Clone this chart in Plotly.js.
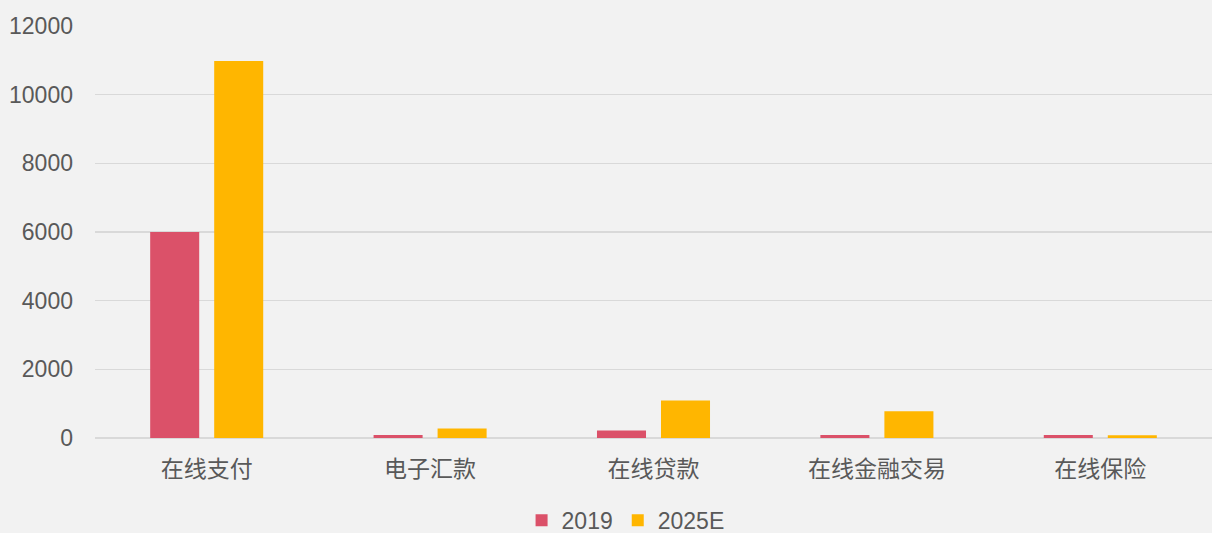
<!DOCTYPE html>
<html>
<head>
<meta charset="utf-8">
<script src="https://cdn.plot.ly/plotly-3.0.1.min.js"></script>
<style>html,body{margin:0;padding:0;background:#f2f2f2;}#chart{width:1212px;height:533px;}</style>
</head>
<body>
<div id="chart"></div>
<script>
const categories = ['在线支付', '电子汇款', '在线贷款', '在线金融交易', '在线保险'];
const seriesNames = ['2019', '2025E'];
const values2019 = [6000, 90, 220, 90, 90];
const values2025E = [10980, 280, 1090, 780, 80];
const yTicks = [0, 2000, 4000, 6000, 8000, 10000, 12000];

const font = "'Liberation Sans', Arial, 'Noto Sans CJK SC', sans-serif";
const traces = [
  {type: 'bar', name: seriesNames[0], x: categories, y: values2019, marker: {color: '#db5169'}},
  {type: 'bar', name: seriesNames[1], x: categories, y: values2025E, marker: {color: '#ffb600'}}
];
const layout = {
  width: 1212, height: 533,
  paper_bgcolor: '#f2f2f2', plot_bgcolor: '#f2f2f2',
  margin: {l: 95, r: 0, t: 26, b: 95},
  barmode: 'group', bargap: 0.427, bargroupgap: 0.234,
  font: {family: font, color: '#595959', size: 23},
  xaxis: {
    showgrid: false, zeroline: false, showline: false, ticks: '',
    tickfont: {family: "'Noto Sans CJK SC', sans-serif", size: 23, color: '#595959'},
    ticklabelstandoff: 15
  },
  yaxis: {
    range: [0, 12000], tickvals: yTicks, ticktext: yTicks.map(String),
    showgrid: true, gridcolor: '#d9d9d9', gridwidth: 1.6,
    zeroline: true, zerolinecolor: '#d9d9d9', zerolinewidth: 2,
    showline: false, ticks: '', ticklabelstandoff: 21,
    tickfont: {family: font, size: 23, color: '#595959'}
  },
  showlegend: true,
  legend: {
    orientation: 'h', x: 0.475, xanchor: 'center',
    yref: 'container', y: 0.024, yanchor: 'middle',
    font: {family: font, size: 23, color: '#595959'}, itemwidth: 30,
    bgcolor: 'rgba(0,0,0,0)'
  }
};
Plotly.newPlot('chart', traces, layout, {displayModeBar: false, staticPlot: true});
</script>
</body>
</html>
